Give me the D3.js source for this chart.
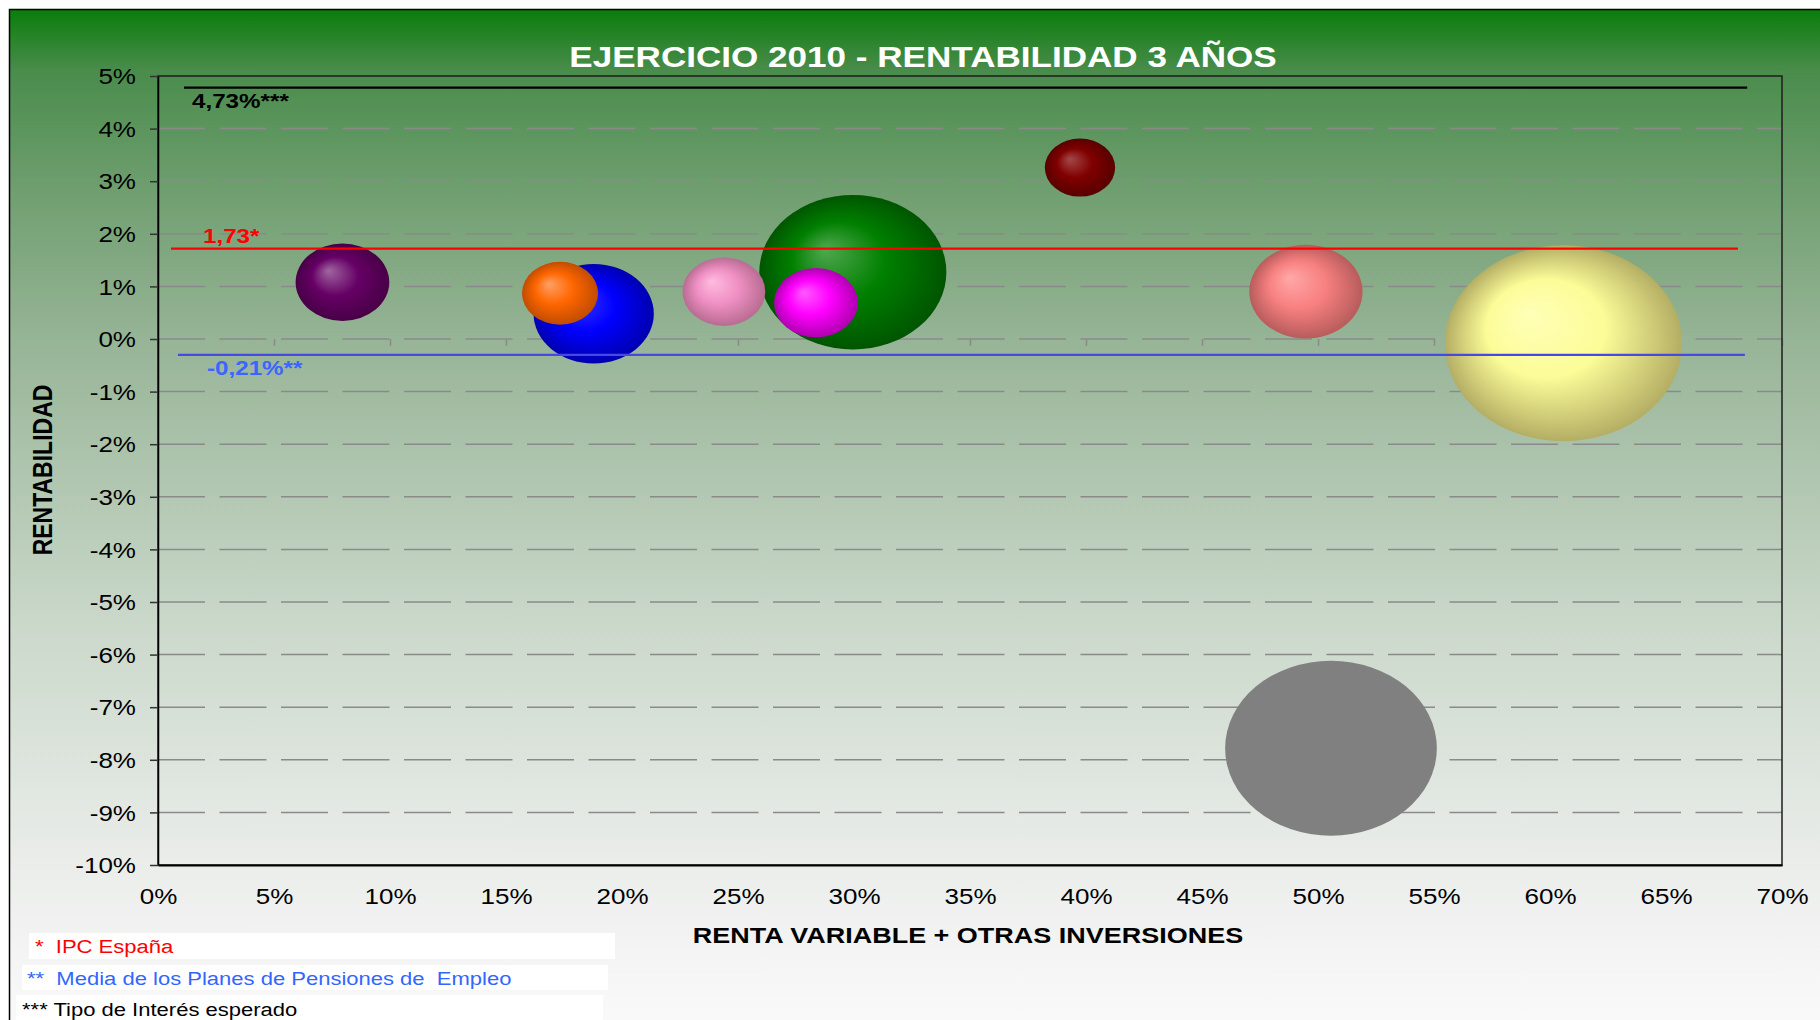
<!DOCTYPE html>
<html>
<head>
<meta charset="utf-8">
<script src="https://cdn.jsdelivr.net/npm/d3@7"></script>
<style>
  html, body { margin: 0; padding: 0; background: #ffffff; }
  svg { display: block; font-family: "Liberation Sans", Arial, sans-serif; }
</style>
</head>
<body>
<div id="chart"></div>
<script>
// values
const planes = ["Plan 1", "Plan 2", "Plan 3", "Plan 4", "Plan 5", "Plan 6", "Plan 7", "Plan 8", "Plan 9", "Plan 10"];
const rentaVariable = [7.95, 17.33, 18.78, 24.39, 29.95, 28.36, 39.74, 49.48, 60.58, 50.56];
const rentabilidad = [1.08, 0.87, 0.48, 0.90, 1.27, 0.69, 3.26, 0.90, -0.08, -7.78];
const patrimonio = [15.6, 10.3, 25.7, 12.2, 62.2, 12.5, 8.8, 22.8, 100, 79.7];

const xTicks = [0, 5, 10, 15, 20, 25, 30, 35, 40, 45, 50, 55, 60, 65, 70];
const yTicks = [5, 4, 3, 2, 1, 0, -1, -2, -3, -4, -5, -6, -7, -8, -9, -10];

// reference lines (drawn level, label text, extent in x units)
const refLevels = [4.78, 1.72, -0.30];
const refLabels = ["4,73%***", "1,73*", "-0,21%**"];
const refFrom = [1.12, 0.56, 0.86];
const refTo = [68.5, 68.1, 68.4];

const notes = ["*  IPC España", "**  Media de los Planes de Pensiones de  Empleo", "*** Tipo de Interés esperado"];

// bubble colours: [highlight, base, edge]
const bubbleColors = [
  ["#a066a0", "#660066", "#480046"],
  ["#ffa066", "#ff6600", "#c04c00"],
  ["#3a3aff", "#0000ff", "#0000b0"],
  ["#ffbce0", "#f090c4", "#b86c92"],
  ["#50a850", "#008000", "#005500"],
  ["#ff5aff", "#ff00ff", "#b000b0"],
  ["#a44848", "#800000", "#580000"],
  ["#ffa8a8", "#f88080", "#b85c5c"],
  ["#ffffb8", "#fcfc98", "#b4ae64"],
  null
];

const W = 1820, H = 1020;
const SX = 1.21; // the picture is stretched sideways
const fontSans = "'Liberation Sans', Arial, sans-serif";

const svg = d3.select("#chart").append("svg")
  .attr("width", W).attr("height", H);

const defs = svg.append("defs");

const bg = defs.append("linearGradient").attr("id", "bg")
  .attr("x1", 0).attr("y1", 0).attr("x2", 0).attr("y2", 1);
[[0, "#0a7d0c"], [0.06, "#4a8c4c"], [0.2, "#76a276"], [0.33, "#98b598"],
 [0.6, "#cad8ca"], [0.85, "#eceeec"], [1, "#fafafa"]].forEach(([o, c]) =>
  bg.append("stop").attr("offset", o).attr("stop-color", c));

bubbleColors.forEach((c, i) => {
  if (!c) return;
  const g = defs.append("radialGradient").attr("id", "bub" + i)
    .attr("cx", "50%").attr("cy", "50%").attr("r", "50%")
    .attr("fx", "35%").attr("fy", "35%");
  g.append("stop").attr("offset", 0).attr("stop-color", c[0]);
  g.append("stop").attr("offset", 0.5).attr("stop-color", c[1]);
  g.append("stop").attr("offset", 1).attr("stop-color", c[2]);
});

// chart area
svg.append("rect")
  .attr("x", 9.5).attr("y", 9.5).attr("width", W).attr("height", H)
  .attr("fill", "url(#bg)").attr("stroke", "#000").attr("stroke-width", 1.5);

const x = d3.scaleLinear().domain([0, 70]).range([158, 1782]);
const y = d3.scaleLinear().domain([-10, 5]).range([865, 76]);
const r = d3.scaleSqrt().domain([0, 100]).range([0, 98]);

// grid
svg.append("g").selectAll("line")
  .data(yTicks.filter(d => d > -10 && d < 5))
  .join("line")
  .attr("x1", x(0)).attr("x2", x(70))
  .attr("y1", d => y(d)).attr("y2", d => y(d))
  .attr("stroke", "#8a8a8a").attr("stroke-width", 1.5)
  .attr("stroke-dasharray", "47 14.5");

// tick marks on the zero line
svg.append("g")
  .attr("transform", `translate(0,${y(0)})`)
  .call(d3.axisBottom(x).tickValues(xTicks).tickSize(7).tickFormat(""))
  .call(g => g.select(".domain").remove())
  .call(g => g.selectAll("line").attr("stroke", "#8a8a8a").attr("stroke-width", 1.5));

// plot border
svg.append("rect")
  .attr("x", x(0)).attr("y", y(5))
  .attr("width", x(70) - x(0)).attr("height", y(-10) - y(5))
  .attr("fill", "none").attr("stroke", "#1e1e1e").attr("stroke-width", 1.5);

// bubbles, larger ones behind
const order = d3.range(planes.length).sort((a, b) => patrimonio[b] - patrimonio[a]);
svg.append("g").selectAll("ellipse")
  .data(order)
  .join("ellipse")
  .attr("cx", i => x(rentaVariable[i]))
  .attr("cy", i => y(rentabilidad[i]))
  .attr("rx", i => r(patrimonio[i]) * SX)
  .attr("ry", i => r(patrimonio[i]))
  .attr("fill", i => bubbleColors[i] ? `url(#bub${i})` : "#808080");

// reference lines
const refStroke = ["#000000", "#ff0000", "#4848e6"];
const refText = ["#000000", "#ff0000", "#3a66ff"];
const refDx = [8, 32, 29];
const refDy = [20, -6, 20];
const refs = svg.append("g");
refLevels.forEach((v, i) => {
  refs.append("line")
    .attr("x1", x(refFrom[i])).attr("x2", x(refTo[i]))
    .attr("y1", y(v)).attr("y2", y(v))
    .attr("stroke", refStroke[i]).attr("stroke-width", 2.2);
  refs.append("text")
    .attr("transform", `translate(${x(refFrom[i]) + refDx[i]},${y(v) + refDy[i]}) scale(${SX},1)`)
    .attr("font-size", 20).attr("font-weight", "bold")
    .attr("fill", refText[i])
    .text(refLabels[i]);
});

// y axis
svg.append("g")
  .attr("transform", `translate(${x(0)},0)`)
  .call(d3.axisLeft(y).tickValues(yTicks).tickSize(8).tickSizeOuter(0).tickFormat(d => d + "%"))
  .call(g => g.select(".domain").attr("stroke", "#000").attr("stroke-width", 1.5))
  .call(g => g.selectAll(".tick line").attr("stroke", "#333").attr("stroke-width", 1.5))
  .call(g => g.selectAll(".tick text")
    .attr("x", null).attr("dy", "0.36em")
    .attr("transform", `translate(-22,0) scale(${SX},1)`)
    .attr("font-family", fontSans).attr("font-size", 21.5).attr("fill", "#000"));

// x axis
svg.append("g")
  .attr("transform", `translate(0,${y(-10)})`)
  .call(d3.axisBottom(x).tickValues(xTicks).tickSize(0).tickSizeOuter(0).tickFormat(d => d + "%"))
  .call(g => g.select(".domain").attr("stroke", "#000").attr("stroke-width", 2))
  .call(g => g.selectAll(".tick text")
    .attr("y", 0).attr("dy", null)
    .attr("transform", `translate(0,39) scale(${SX},1)`)
    .attr("font-family", fontSans).attr("font-size", 21.5).attr("fill", "#000"));

// titles
svg.append("text")
  .attr("transform", `translate(923,67) scale(${SX},1)`)
  .attr("text-anchor", "middle")
  .attr("font-size", 29).attr("font-weight", "bold").attr("fill", "#ffffff")
  .text("EJERCICIO 2010 - RENTABILIDAD 3 AÑOS");

svg.append("text")
  .attr("transform", `translate(968,943) scale(${SX},1)`)
  .attr("text-anchor", "middle")
  .attr("font-size", 22.3).attr("font-weight", "bold").attr("fill", "#000")
  .text("RENTA VARIABLE + OTRAS INVERSIONES");

svg.append("text")
  .attr("transform", `translate(52,470) scale(${SX},1) rotate(-90)`)
  .attr("text-anchor", "middle")
  .attr("font-size", 23).attr("font-weight", "bold").attr("fill", "#000")
  .text("RENTABILIDAD");

// footnotes
const noteBox = [[29, 933, 586, 26], [22, 965, 586, 25], [16, 995, 587, 25]];
const noteText = [[35, 953, "#ff0000"], [27, 985, "#3366ff"], [22, 1016, "#000000"]];
notes.forEach((t, i) => {
  svg.append("rect")
    .attr("x", noteBox[i][0]).attr("y", noteBox[i][1])
    .attr("width", noteBox[i][2]).attr("height", noteBox[i][3])
    .attr("fill", "#ffffff");
  svg.append("text")
    .attr("transform", `translate(${noteText[i][0]},${noteText[i][1]}) scale(${SX},1)`)
    .attr("font-size", 18.2).attr("fill", noteText[i][2])
    .style("white-space", "pre")
    .text(t);
});
</script>
</body>
</html>
